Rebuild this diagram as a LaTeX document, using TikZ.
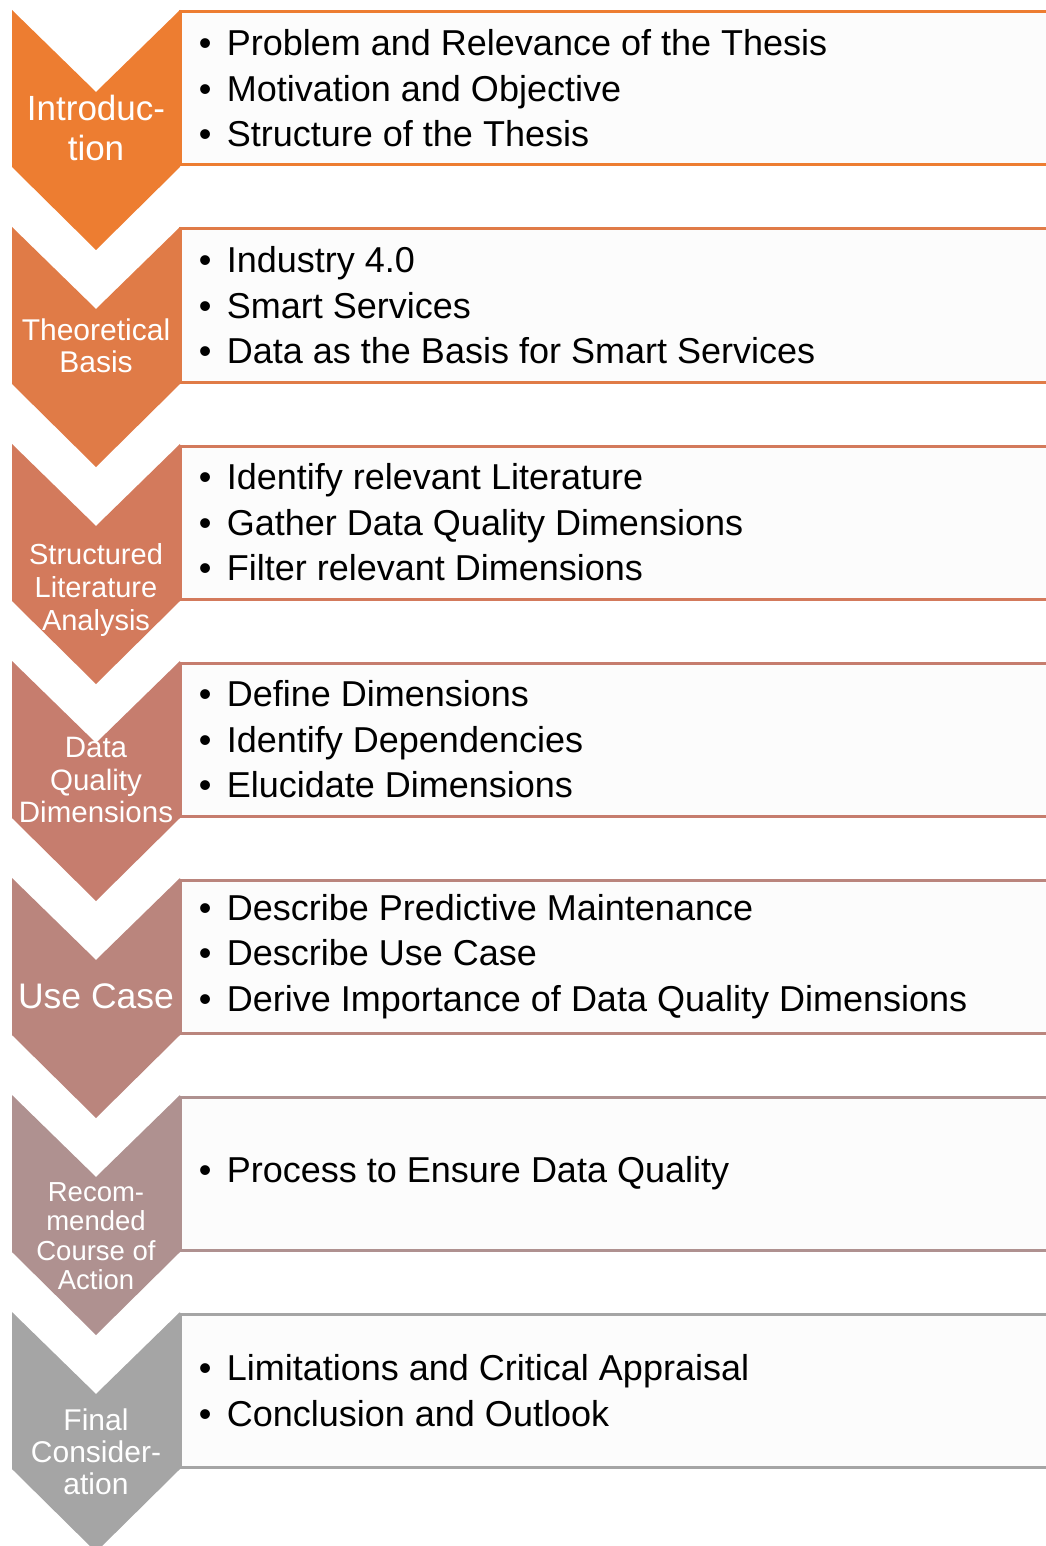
\documentclass[tikz,border=0pt]{standalone}
\usepackage{fontspec}
\setmainfont{Liberation Sans}
\usepackage{xcolor}
\usetikzlibrary{positioning}

% stage colours, orange fading to grey
\definecolor{stageA}{HTML}{ED7D31}
\definecolor{stageB}{HTML}{E07B47}
\definecolor{stageC}{HTML}{D37A5C}
\definecolor{stageD}{HTML}{C67D6E}
\definecolor{stageE}{HTML}{BA857D}
\definecolor{stageF}{HTML}{AF9190}
\definecolor{stageG}{HTML}{A5A5A5}
\definecolor{boxfill}{HTML}{FCFCFC}

% chevron with notch on top and point below, #1 = top edge
\newcommand{\chevron}[2]{\fill[#2] (12,#1) -- ++(84,82) -- ++(84,-82) -- ++(0,157) -- ++(-84,83) -- ++(-84,-83) -- cycle;}
\newcommand{\point}{\makebox[14pt][l]{\textbullet}}

\begin{document}
\begin{tikzpicture}[
			x=0.5pt, y=-0.5pt,
			topic/.style={rectangle, line width=1.5pt, fill=boxfill, minimum width=435pt, minimum height=76.5pt, inner sep=0pt},
			items/.style={align=left, inner sep=0pt, text=black, font=\fontsize{18}{22.75}\selectfont},
			stage/.style={align=center, inner sep=0pt, text=white}
			]
			\useasboundingbox (0,0) rectangle (1045,1546);
			
			% content boxes
			\node[topic, draw=stageA] (boxA) at (615,88.5) {};
			\node[topic, draw=stageB] (boxB) at (615,305.5) {};
			\node[topic, draw=stageC] (boxC) at (615,522.5) {};
			\node[topic, draw=stageD] (boxD) at (615,739.5) {};
			\node[topic, draw=stageE] (boxE) at (615,956.5) {};
			\node[topic, draw=stageF] (boxF) at (615,1173.5) {};
			\node[topic, draw=stageG] (boxG) at (615,1390.5) {};
			
			% chevrons on the left
			\chevron{10}{stageA}
			\chevron{227}{stageB}
			\chevron{444}{stageC}
			\chevron{661}{stageD}
			\chevron{878}{stageE}
			\chevron{1095}{stageF}
			\chevron{1312}{stageG}
			
			% chevron labels
			\node[stage, font=\fontsize{17.5}{20}\selectfont] (intro) at (96,128) {Introduc-\\tion};
			\node[stage, font=\fontsize{15}{16}\selectfont] (basis) at (96,346) {Theoretical\\Basis};
			\node[stage, font=\fontsize{14.5}{16.5}\selectfont] (litana) at (96,590) {Structured\\Literature\\Analysis};
			\node[stage, font=\fontsize{14.75}{16.25}\selectfont] (dqdim) at (96,780) {Data\\Quality\\Dimensions};
			\node[stage, font=\fontsize{17.75}{20}\selectfont] (usecase) at (96,996) {Use Case};
			\node[stage, font=\fontsize{13.75}{14.75}\selectfont] (action) at (96,1236) {Recom-\\mended\\Course of\\Action};
			\node[stage, font=\fontsize{15}{16}\selectfont] (final) at (96,1452) {Final\\Consider-\\ation};
			
			% bullet lists
			\node[items, right=10pt of boxA.west] (listA) {\point Problem and Relevance of the Thesis\\\point Motivation and Objective\\\point Structure of the Thesis};
			\node[items, right=10pt of boxB.west] (listB) {\point Industry 4.0\\\point Smart Services\\\point Data as the Basis for Smart Services};
			\node[items, right=10pt of boxC.west] (listC) {\point Identify relevant Literature\\\point Gather Data Quality Dimensions\\\point Filter relevant Dimensions};
			\node[items, right=10pt of boxD.west] (listD) {\point Define Dimensions\\\point Identify Dependencies\\\point Elucidate Dimensions};
			\node[items, right=10pt of boxE.west] (listE) {\point Describe Predictive Maintenance\\\point Describe Use Case\\\point Derive Importance of Data Quality Dimensions};
			\node[items, right=10pt of boxF.west] (listF) {\point Process to Ensure Data Quality};
			\node[items, right=10pt of boxG.west] (listG) {\point Limitations and Critical Appraisal\\\point Conclusion and Outlook};
			
		\end{tikzpicture}
\end{document}
